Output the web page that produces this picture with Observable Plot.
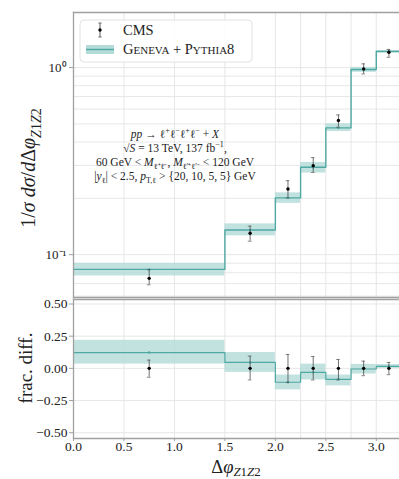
<!DOCTYPE html>
<html><head><meta charset="utf-8">
<script src="https://cdn.jsdelivr.net/npm/d3@7"></script>
<script src="https://cdn.jsdelivr.net/npm/@observablehq/plot@0.6"></script>
<style>
body{margin:0;background:#fff;}
#wrap{position:relative;width:399px;height:479px;font-family:"Liberation Serif",serif;overflow:hidden;}
#wrap svg{position:absolute;left:0;overflow:visible;}
</style></head><body><div id="wrap"></div>
<script>
// ---- data ----
const binEdges = [0, 1.5, 2.0, 2.25, 2.5, 2.75, 3.0, 3.25];
const genevaVal = [0.0834, 0.1355, 0.201, 0.293, 0.476, 0.976, 1.218];
const genevaLo  = [0.0769, 0.126, 0.188, 0.273, 0.455, 0.943, 1.200];
const genevaHi  = [0.0898, 0.146, 0.214, 0.311, 0.500, 1.003, 1.235];
const cmsX   = [0.75, 1.75, 2.125, 2.375, 2.625, 2.875, 3.125];
const cmsVal = [0.0747, 0.130, 0.2245, 0.299, 0.521, 0.984, 1.208];
const cmsLo  = [0.069, 0.118, 0.201, 0.275, 0.480, 0.925, 1.135];
const cmsHi  = [0.083, 0.142, 0.2485, 0.330, 0.558, 1.047, 1.250];
const ratioVal = [0.123, 0.046, -0.108, -0.031, -0.085, -0.005, 0.015];
const ratioLo  = [0.033, -0.031, -0.167, -0.090, -0.136, -0.044, 0.000];
const ratioHi  = [0.218, 0.123, -0.052, 0.033, -0.052, 0.031, 0.030];
const cmsRatioLo = [-0.069, -0.090, -0.110, -0.090, -0.090, -0.057, -0.049];
const cmsRatioHi = [0.064, 0.095, 0.108, 0.092, 0.069, 0.056, 0.046];
const xTicks = [0, 0.5, 1.0, 1.5, 2.0, 2.5, 3.0];
const xGrid = [0.5, 1.0, 1.5, 2.0, 2.25, 2.5, 2.75, 3.0];
const yTopTicks = [0.1, 1];
const yTopGrid = [0.06,0.07,0.08,0.09,0.1,0.2,0.3,0.4,0.5,0.6,0.7,0.8,0.9,1];
const yBotTicks = [-0.5, -0.25, 0, 0.25, 0.5];

// ---- derived tables ----
const bins = genevaVal.map((v,i)=>({x1:binEdges[i],x2:binEdges[i+1],v,lo:genevaLo[i],hi:genevaHi[i],r:ratioVal[i],rlo:ratioLo[i],rhi:ratioHi[i]}));
const last = bins.length-1;
const stepTop = [...bins.map(b=>({x:b.x1,y:b.v})),{x:binEdges[last+1],y:genevaVal[last]}];
const stepBot = [...bins.map(b=>({x:b.x1,y:b.r})),{x:binEdges[last+1],y:ratioVal[last]}];
const pts = cmsX.map((x,i)=>({x,v:cmsVal[i],lo:cmsLo[i],hi:cmsHi[i],g:genevaVal[i],r:ratioVal[i],rlo:cmsRatioLo[i],rhi:cmsRatioHi[i],zero:0}));
const capW = 0.018;

const teal = "#4fa8a2", band = "#b3dbd8", grid = "#e4e4e4", frameC = "#a0a0a0";
const xDomain = [0, 3.23];
const font = "Liberation Serif, serif";
const wrap = document.getElementById("wrap");

const topPlot = Plot.plot({
  width:399, height:298, marginLeft:73, marginRight:0, marginTop:12, marginBottom:1,
  style:{fontFamily:font, fontSize:"13px", background:"transparent", color:"#222", overflow:"visible"},
  x:{domain:xDomain, axis:null},
  y:{type:"log", domain:[0.059,1.97], axis:null},
  marks:[
    Plot.ruleX(xGrid,{stroke:grid,strokeWidth:0.9}),
    Plot.ruleY(yTopGrid,{stroke:grid,strokeWidth:0.9}),
    Plot.rect(bins,{x1:"x1",x2:"x2",y1:"lo",y2:"hi",fill:band,fillOpacity:0.8}),
    Plot.line(stepTop,{x:"x",y:"y",curve:"step-after",stroke:teal,strokeWidth:1.4}),
    Plot.dot(pts,{x:"x",y:"g",r:1.2,fill:teal}),
    Plot.ruleX(pts,{x:"x",y1:"lo",y2:"hi",stroke:"#333",strokeWidth:0.7}),
    Plot.ruleY(pts,{y:"lo",x1:d=>d.x-capW,x2:d=>d.x+capW,stroke:"#555",strokeWidth:0.7}),
    Plot.ruleY(pts,{y:"hi",x1:d=>d.x-capW,x2:d=>d.x+capW,stroke:"#555",strokeWidth:0.7}),
    Plot.dot(pts,{x:"x",y:"v",r:1.7,fill:"#000"}),
    Plot.axisY({ticks:yTopTicks,tickFormat:d=>d===1?"10⁰":"10⁻¹",tickSize:4,tickPadding:3,label:null,fontSize:13,stroke:frameC}),
    Plot.frame({anchor:"top",stroke:frameC,strokeWidth:1.3}),
    Plot.frame({anchor:"left",stroke:frameC,strokeWidth:1.3}),
    Plot.frame({anchor:"bottom",stroke:frameC,strokeWidth:1.3})
  ]
});
topPlot.style.top = "0px";
wrap.appendChild(topPlot);

const botPlot = Plot.plot({
  width:399, height:181, marginLeft:73, marginRight:0, marginTop:1, marginBottom:41,
  style:{fontFamily:font, fontSize:"13px", background:"transparent", color:"#222", overflow:"visible"},
  x:{domain:xDomain, axis:null},
  y:{domain:[-0.545,0.535], axis:null},
  marks:[
    Plot.ruleX(xGrid,{stroke:grid,strokeWidth:0.9}),
    Plot.ruleY(yBotTicks,{stroke:grid,strokeWidth:0.9}),
    Plot.rect(bins,{x1:"x1",x2:"x2",y1:"rlo",y2:"rhi",fill:band,fillOpacity:0.8}),
    Plot.line(stepBot,{x:"x",y:"y",curve:"step-after",stroke:teal,strokeWidth:1.2}),
    Plot.dot(pts,{x:"x",y:"r",r:1.2,fill:teal}),
    Plot.ruleX(pts,{x:"x",y1:"rlo",y2:"rhi",stroke:"#333",strokeWidth:0.7}),
    Plot.ruleY(pts,{y:"rlo",x1:d=>d.x-capW,x2:d=>d.x+capW,stroke:"#555",strokeWidth:0.7}),
    Plot.ruleY(pts,{y:"rhi",x1:d=>d.x-capW,x2:d=>d.x+capW,stroke:"#555",strokeWidth:0.7}),
    Plot.dot(pts,{x:"x",y:"zero",r:1.7,fill:"#000"}),
    Plot.axisX({ticks:xTicks,tickFormat:d3.format(".1f"),tickSize:3,tickPadding:0,label:null,fontSize:13.5,stroke:frameC}),
    Plot.axisY({ticks:yBotTicks,tickFormat:d3.format(".2f"),tickSize:4,tickPadding:2,label:null,fontSize:13.5,stroke:frameC}),
    Plot.frame({anchor:"top",stroke:frameC,strokeWidth:1.3}),
    Plot.frame({anchor:"left",stroke:frameC,strokeWidth:1.3}),
    Plot.frame({anchor:"bottom",stroke:frameC,strokeWidth:1.3})
  ]
});
botPlot.style.top = "298px";
wrap.appendChild(botPlot);

// ---- overlay text: labels, annotation, legend ----
const ov = d3.select(wrap).append("svg").attr("width",399).attr("height",479)
  .style("top","0px").style("pointer-events","none")
  .attr("font-family",font).attr("fill","#222");

function rich(g, segs, size, subK=0.3){
  const t = g.append("text").attr("font-size",size);
  let off = 0;
  for (const s of segs){
    const shift = s.sub ? size*subK : s.sup ? -size*0.4 : 0;
    const ts = t.append("tspan").text(s.t).attr("dy", shift-off);
    off = shift;
    if (s.i) ts.attr("font-style","italic");
    if (s.sub || s.sup) ts.attr("font-size", size*0.7);
  }
  return t;
}

// y label top
rich(ov.append("g").attr("transform","translate(35,168) rotate(-90)"),
  [{t:"1/"},{t:"σ d",i:true},{t:"σ",i:true},{t:"/"},{t:"d",i:true},{t:"Δ"},{t:"φ",i:true},{t:"Z",i:true,sub:true},{t:"1",sub:true},{t:"Z",i:true,sub:true},{t:"2",sub:true}],20)
  .attr("text-anchor","middle");
// y label bottom
rich(ov.append("g").attr("transform","translate(32,368) rotate(-90)"),
  [{t:"frac. diff."}],19).attr("text-anchor","middle");
// x label
rich(ov.append("g").attr("transform","translate(236,473)"),
  [{t:"Δ"},{t:"φ",i:true},{t:"Z",i:true,sub:true},{t:"1",sub:true},{t:"Z",i:true,sub:true},{t:"2",sub:true}],18.5,0.14)
  .attr("text-anchor","middle");

// annotation
const ann = ov.append("g").attr("transform","translate(175,0)");
const annLines = [
  [{t:"pp",i:true},{t:" → ℓ"},{t:"+",sup:true},{t:"ℓ"},{t:"−",sup:true},{t:"ℓ"},{t:"+",sup:true},{t:"ℓ"},{t:"−",sup:true},{t:" + "},{t:"X",i:true}],
  [{t:"√"},{t:"S",i:true},{t:" = 13 TeV, 137 fb"},{t:"−1",sup:true},{t:","}],
  [{t:"60 GeV < "},{t:"M",i:true},{t:"ℓ⁺ℓ⁻",sub:true},{t:", "},{t:"M",i:true},{t:"ℓ′⁺ℓ′⁻",sub:true},{t:" < 120 GeV"}],
  [{t:"|"},{t:"y",i:true},{t:"ℓ",sub:true},{t:"| < 2.5, "},{t:"p",i:true},{t:"T,ℓ",sub:true},{t:" > {20, 10, 5, 5} GeV"}]
];
const annY = [138, 152, 166, 180];
annLines.forEach((segs,i)=>{
  rich(ann.append("g").attr("transform",`translate(0,${annY[i]})`),segs,11.5).attr("text-anchor","middle");
});

// legend
const lg = ov.append("g");
lg.append("rect").attr("x",80).attr("y",20).attr("width",172).attr("height",42).attr("rx",4)
  .attr("fill","#fff").attr("fill-opacity",0.85).attr("stroke","#e2e2e2").attr("stroke-width",1);
lg.append("line").attr("x1",100).attr("x2",100).attr("y1",23).attr("y2",37).attr("stroke","#333").attr("stroke-width",0.8);
lg.append("line").attr("x1",98.3).attr("x2",101.7).attr("y1",23).attr("y2",23).attr("stroke","#555").attr("stroke-width",0.8);
lg.append("line").attr("x1",98.3).attr("x2",101.7).attr("y1",37).attr("y2",37).attr("stroke","#555").attr("stroke-width",0.8);
lg.append("circle").attr("cx",100).attr("cy",30).attr("r",1.7).attr("fill","#000");
lg.append("text").attr("x",123).attr("y",35).attr("font-size",14.5).text("CMS");
lg.append("rect").attr("x",86).attr("y",45).attr("width",28).attr("height",9).attr("fill",band);
lg.append("line").attr("x1",86).attr("x2",114).attr("y1",49.5).attr("y2",49.5).attr("stroke",teal).attr("stroke-width",1.4);
const gt = lg.append("text").attr("x",123).attr("y",54).attr("font-size",14.5);
[["G",14.5],["ENEVA",11],[" + ",14.5],["P",14.5],["YTHIA",11],["8",14.5]].forEach(([t,s])=>gt.append("tspan").attr("font-size",s).text(t));
</script></body></html>
